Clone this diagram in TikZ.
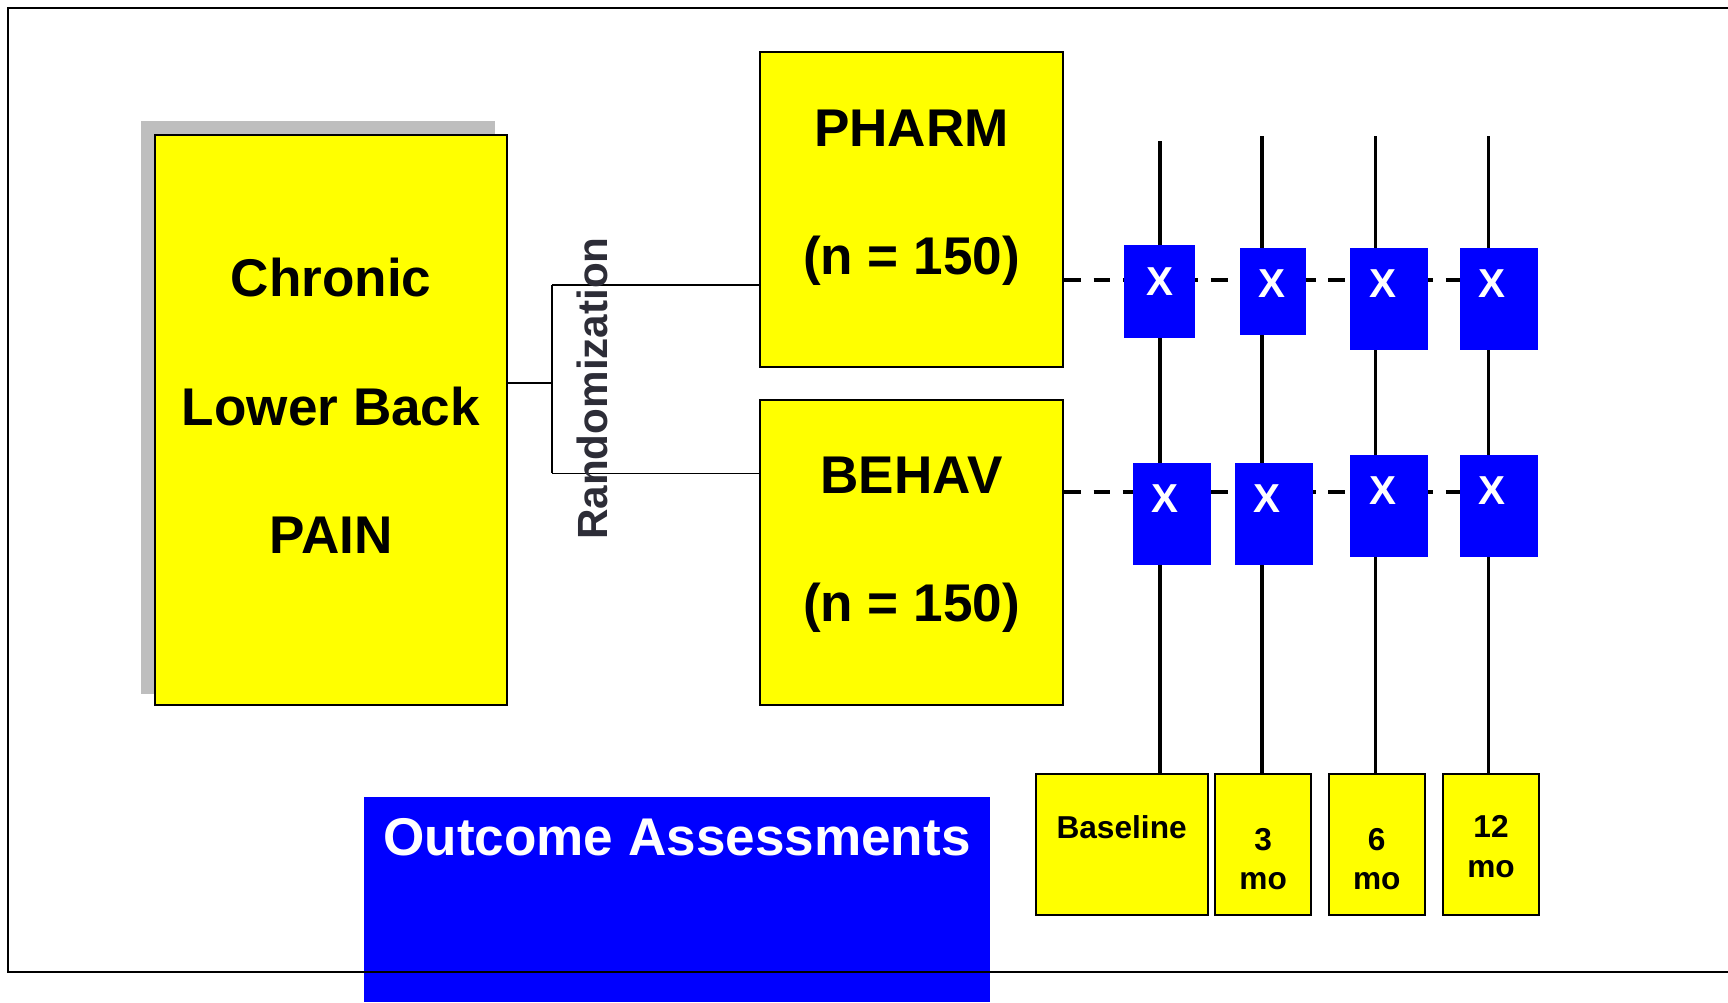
\documentclass[tikz,border=0pt]{standalone}
\usepackage{fontspec}
\setmainfont{Liberation Sans}
\definecolor{shadowgray}{RGB}{190,190,190}
\definecolor{boxyellow}{RGB}{255,255,0}
\definecolor{boxblue}{RGB}{0,0,255}
\definecolor{randgray}{RGB}{45,45,55}

\begin{document}
\begin{tikzpicture}[x=0.01cm,y=-0.01cm,
  ybox/.style={draw=black,line width=0.6pt,fill=boxyellow,inner sep=0pt,minimum height=1.41cm},
  xbox/.style={fill=boxblue,inner sep=0pt,minimum width=0.78cm,minimum height=1.017cm},
  xmark/.style={text=white,inner sep=0pt,font=\fontsize{11.5}{12}\selectfont\bfseries},
  bigtxt/.style={align=center,inner sep=0pt,font=\fontsize{15.1}{36.5}\selectfont\bfseries},
  timetxt/.style={align=center,inner sep=0pt,font=\fontsize{9}{11.2}\selectfont\bfseries},
  dashline/.style={line width=1.1pt,dash pattern=on 4.75pt off 3.6pt},
  timeline/.style={line width=1pt}]
  \useasboundingbox (0,0) rectangle (1728,1002);

  % study population
  \fill[shadowgray] (141,121) rectangle (495,694);
  \node[ybox,minimum width=3.52cm,minimum height=5.695cm] (pain) at (331,420.25) {};
  \node[bigtxt] (paintxt) at (331,406) {Chronic\\Lower Back\\PAIN};

  % the two arms
  \node[ybox,minimum width=3.03cm,minimum height=3.15cm] (pharm) at (911.5,209.5) {};
  \node[bigtxt] (pharmtxt) at (911.5,198) {PHARM\\(n = 150)};
  \node[ybox,minimum width=3.03cm,minimum height=3.05cm] (behav) at (911.5,552.5) {};
  \node[bigtxt] (behavtxt) at (911.5,545) {BEHAV\\(n = 150)};

  % randomization bracket
  \coordinate (split) at (552,382.7);
  \coordinate (rtop) at (552,285);
  \coordinate (rbot) at (552,473.3);
  \draw[line width=0.45pt] (pain.east |- split) -- (split);
  \draw[line width=0.45pt] (rtop) -- (rbot);
  \draw[line width=0.45pt] (rtop) -- (pharm.west |- rtop);
  \draw[line width=0.45pt] (rbot) -- (behav.west |- rbot);
  \node[rotate=90,inner sep=0pt,text=randgray,font=\fontsize{12}{14}\selectfont\bfseries] (rand) at (592,388.5) {Randomization};

  % time points
  \node[ybox,minimum width=1.718cm] (base) at (1121.6,844.5) {};
  \node[ybox,minimum width=0.956cm] (m3) at (1263.2,844.5) {};
  \node[ybox,minimum width=0.961cm] (m6) at (1376.75,844.5) {};
  \node[ybox,minimum width=0.961cm] (m12) at (1491,844.5) {};
  \node[timetxt] (basetxt) at (1121.6,827) {Baseline};
  \node[timetxt] (m3txt) at (1263.2,859) {3\\mo};
  \node[timetxt] (m6txt) at (1376.75,859) {6\\mo};
  \node[timetxt] (m12txt) at (1491,846.5) {12\\mo};

  \coordinate (v1) at (1160,141);
  \coordinate (v2) at (1262,136);
  \coordinate (v3) at (1375.7,136);
  \coordinate (v4) at (1488.7,136);
  \draw[timeline] (v1) -- (v1 |- base.north);
  \draw[timeline] (v2) -- (v2 |- m3.north);
  \draw[timeline] (v3) -- (v3 |- m6.north);
  \draw[timeline] (v4) -- (v4 |- m12.north);

  \coordinate (dtop) at (1460,280.3);
  \coordinate (dbot) at (1460,492.3);
  \draw[dashline] (pharm.east |- dtop) -- (dtop);
  \draw[dashline] (behav.east |- dbot) -- (dbot);

  % assessments
  \node[xbox,minimum width=0.71cm,minimum height=0.927cm] (t1) at (1159.4,291.4) {};
  \node[xbox,minimum width=0.66cm,minimum height=0.867cm] (t2) at (1273,291.4) {};
  \node[xbox,minimum width=0.777cm] (t3) at (1389,298.9) {};
  \node[xbox] (t4) at (1499,298.9) {};
  \node[xbox] (b1) at (1172,513.9) {};
  \node[xbox] (b2) at (1273.9,513.9) {};
  \node[xbox] (b3) at (1389,505.9) {};
  \node[xbox] (b4) at (1499,505.9) {};
  \node[xmark] (t1x) at (1160,282) {X};
  \node[xmark] (t2x) at (1271.7,284) {X};
  \node[xmark] (t3x) at (1382.7,284) {X};
  \node[xmark] (t4x) at (1492,284) {X};
  \node[xmark] (b1x) at (1165,499) {X};
  \node[xmark] (b2x) at (1267.3,499) {X};
  \node[xmark] (b3x) at (1382.7,491) {X};
  \node[xmark] (b4x) at (1492,491) {X};

  \node[fill=boxblue,inner sep=0pt,minimum width=6.26cm,minimum height=2.05cm] (outbox) at (677,899.5) {};
  \node[text=white,inner sep=0pt,font=\fontsize{15.1}{18}\selectfont\bfseries] (outtxt) at (677,837) {Outcome Assessments};

  % frame
  \draw[line width=0.6pt] (1728,8.3) -- (8,8.3) -- (8,972.3) -- (1728,972.3);
\end{tikzpicture}
\end{document}
